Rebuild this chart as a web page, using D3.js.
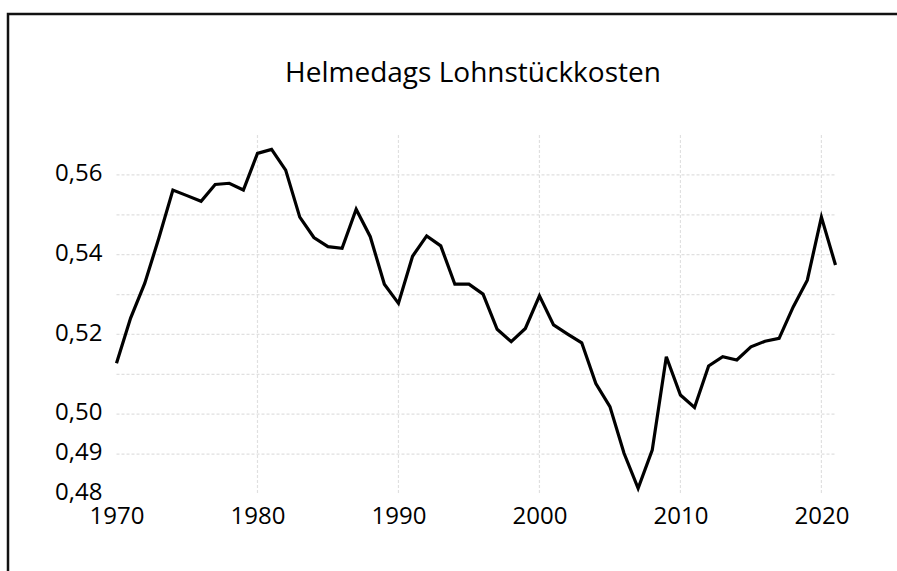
<!DOCTYPE html>
<html>
<head>
<meta charset="utf-8">
<script src="https://cdn.jsdelivr.net/npm/d3@7"></script>
<style>
  body { margin: 0; background: #fff; }
  svg { display: block; font-family: "Open Sans", sans-serif; }
</style>
</head>
<body>
<svg width="897" height="571"></svg>
<script>
// years and values
const years = d3.range(1970, 2022);
const values = [
  0.5128, 0.5241, 0.5328, 0.5441, 0.5562, 0.5548, 0.5534, 0.5576, 0.5579, 0.5562,
  0.5654, 0.5664, 0.5612, 0.5494, 0.5443, 0.5420, 0.5416, 0.5514, 0.5445, 0.5326,
  0.5278, 0.5396, 0.5447, 0.5422, 0.5326, 0.5326, 0.5301, 0.5213, 0.5182, 0.5215,
  0.5297, 0.5224, 0.5201, 0.5179, 0.5077, 0.5019, 0.4902, 0.4814, 0.4910, 0.5144,
  0.5048, 0.5017, 0.5121, 0.5144, 0.5136, 0.5169, 0.5183, 0.5190, 0.5269, 0.5336,
  0.5494, 0.5374
];
const yTickValues = [0.48, 0.49, 0.50, 0.52, 0.54, 0.56];
const yGridValues = [0.49, 0.50, 0.51, 0.52, 0.53, 0.54, 0.55, 0.56];
const xTickValues = [1970, 1980, 1990, 2000, 2010, 2020];
const xGridValues = [1980, 1990, 2000, 2010, 2020];
const title = 'Helmedags Lohnstückkosten';

const svg = d3.select('svg');

const x = d3.scaleLinear().domain([1970, 2021]).range([116.5, 835.5]);
const y = d3.scaleLinear().domain([0.48, 0.57]).range([494, 135]);

// frame (only top and left edges are visible)
svg.append('path')
  .attr('d', 'M8,571 V14 H897')
  .attr('fill', 'none')
  .attr('stroke', '#111')
  .attr('stroke-width', 2.5);

// grid
svg.append('g').selectAll('line')
  .data(yGridValues)
  .enter().append('line')
  .attr('x1', x(1970)).attr('x2', x(2021))
  .attr('y1', d => y(d)).attr('y2', d => y(d))
  .attr('stroke', '#e0e0e0')
  .attr('stroke-width', 1.2)
  .attr('stroke-dasharray', '3,2');

svg.append('g').selectAll('line')
  .data(xGridValues)
  .enter().append('line')
  .attr('x1', d => x(d)).attr('x2', d => x(d))
  .attr('y1', y(0.57)).attr('y2', y(0.48))
  .attr('stroke', '#e0e0e0')
  .attr('stroke-width', 1.2)
  .attr('stroke-dasharray', '3,2');

// axes (text only)
const fmt = d => d3.format('.2f')(d).replace('.', ',');

const yAxis = svg.append('g')
  .attr('transform', 'translate(' + (x(1970) - 4) + ',-2)')
  .call(d3.axisLeft(y).tickValues(yTickValues).tickFormat(fmt).tickSize(0).tickPadding(10));
yAxis.select('.domain').remove();
yAxis.selectAll('text')
  .attr('font-size', 24)
  .attr('font-family', '"Open Sans", sans-serif')
  .attr('fill', '#000');

const xAxis = svg.append('g')
  .attr('transform', 'translate(0,' + y(0.48) + ')')
  .call(d3.axisBottom(x).tickValues(xTickValues).tickFormat(d3.format('d')).tickSize(0).tickPadding(13));
xAxis.select('.domain').remove();
xAxis.selectAll('text')
  .attr('font-size', 24)
  .attr('font-family', '"Open Sans", sans-serif')
  .attr('fill', '#000');

// line
const line = d3.line()
  .x((d, i) => x(years[i]))
  .y(d => y(d));

svg.append('path')
  .datum(values)
  .attr('d', line)
  .attr('fill', 'none')
  .attr('stroke', '#000')
  .attr('stroke-width', 3.2)
  .attr('stroke-linejoin', 'miter');

// title
svg.append('text')
  .attr('x', 473)
  .attr('y', 82)
  .attr('text-anchor', 'middle')
  .attr('font-size', 28)
  .attr('fill', '#000')
  .text(title);
</script>
</body>
</html>
